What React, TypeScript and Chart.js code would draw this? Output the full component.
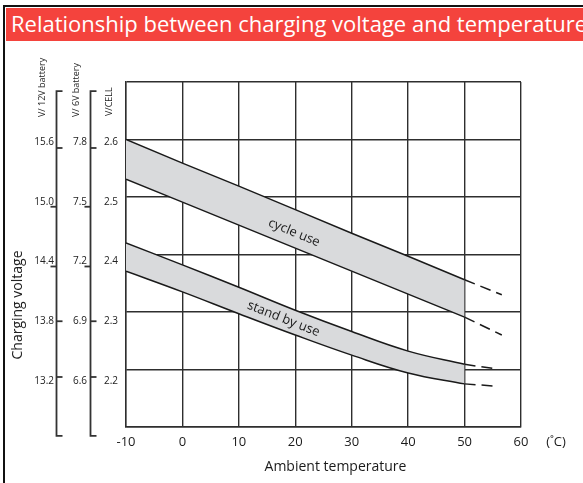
import React, { useEffect, useRef } from 'react';
import { Chart, registerables } from 'chart.js';

Chart.register(...registerables);

// ---- data ----
const temperatures = [-10, 0, 10, 20, 30, 40, 50];
const cycleUpper = [2.6, 2.559, 2.519, 2.478, 2.437, 2.397, 2.356];
const cycleLower = [2.531, 2.491, 2.451, 2.411, 2.371, 2.331, 2.291];
const standbyUpper = [2.42, 2.382, 2.343, 2.303, 2.266, 2.232, 2.209];
const standbyLower = [2.371, 2.335, 2.297, 2.26, 2.225, 2.194, 2.175];

const cycleExtTemps = [50, 56.6];
const cycleUpperExt = [2.356, 2.33];
const cycleLowerExt = [2.291, 2.26];
const standbyExtTemps = [50, 55.6];
const standbyUpperExt = [2.209, 2.201];
const standbyLowerExt = [2.175, 2.171];

const xTicks = [-10, 0, 10, 20, 30, 40, 50, 60];
const gridValues = [2.1, 2.2, 2.3, 2.4, 2.5, 2.6, 2.7];
const cellTicks = [2.2, 2.3, 2.4, 2.5, 2.6];
const v6Ticks = [6.6, 6.9, 7.2, 7.5, 7.8];
const v12Ticks = [13.2, 13.8, 14.4, 15.0, 15.6];

const TITLE = 'Relationship between charging voltage and temperature';
const FONT = '"Open Sans", "Noto Sans", sans-serif';
const LINE = '#1a1a1a';
const GRID = '#2e2e2e';
const BAND = '#d9dadc';

const pts = (xs: number[], ys: number[]) => xs.map((x, i) => ({ x, y: ys[i] }));

// tick marks on the bracket axes (offset from label, direction)
const bracketTickStyle = [
  { dy: -4, dir: 1 },
  { dy: 0, dir: 1 },
  { dy: 5, dir: -1 },
  { dy: 5, dir: -1 },
  { dy: 6, dir: 1 },
];

const annotationPlugin = {
  id: 'annotations',
  afterDraw(chart: any) {
    const ctx = chart.ctx as CanvasRenderingContext2D;
    const area = chart.chartArea;
    const sx = chart.scales.x;
    const sy = chart.scales.y;
    const sc = chart.scales.yCell;
    const s6 = chart.scales.y6;
    const s12 = chart.scales.y12;
    ctx.save();

    // bracket axes
    const top = sc.getPixelForValue(2.685);
    const bottom = sc.getPixelForValue(2.108);
    ctx.strokeStyle = '#333';
    ctx.lineWidth = 1.8;
    const bracket = (s: any, values: number[]) => {
      const bx = s.right - 1.5;
      ctx.beginPath();
      ctx.moveTo(bx + 6, top);
      ctx.lineTo(bx, top);
      ctx.lineTo(bx, bottom);
      ctx.lineTo(bx + 6, bottom);
      ctx.stroke();
      values.forEach((v, i) => {
        const st = bracketTickStyle[i];
        const py = s.getPixelForValue(v) + st.dy;
        ctx.beginPath();
        ctx.moveTo(bx, py);
        ctx.lineTo(bx + st.dir * 6, py);
        ctx.stroke();
      });
    };
    bracket(s12, v12Ticks);
    bracket(s6, v6Ticks);

    // rotated axis captions
    ctx.fillStyle = '#222';
    const rot = (text: string, x: number, y: number, font: string, align: CanvasTextAlign) => {
      ctx.save();
      ctx.translate(x, y);
      ctx.rotate(-Math.PI / 2);
      ctx.font = font;
      ctx.textAlign = align;
      ctx.textBaseline = 'middle';
      ctx.fillText(text, 0, 0);
      ctx.restore();
    };
    rot('V/ 12V battery', s12.right - 16, area.top + 35, `9px ${FONT}`, 'left');
    rot('V/ 6V battery', s6.right - 16, area.top + 35, `9px ${FONT}`, 'left');
    rot('V/CELL', sc.right - 17, area.top + 34, `9px ${FONT}`, 'left');
    rot('Charging voltage', s12.left + 18, area.top + 223, `14px ${FONT}`, 'center');

    // band labels along the band slope
    const bandLabel = (text: string, t: number, v: number, ys: number[], i0: number, i1: number) => {
      const ang = Math.atan2(
        sy.getPixelForValue(ys[i1]) - sy.getPixelForValue(ys[i0]),
        sx.getPixelForValue(temperatures[i1]) - sx.getPixelForValue(temperatures[i0])
      );
      ctx.save();
      ctx.translate(sx.getPixelForValue(t), sy.getPixelForValue(v));
      ctx.rotate(ang);
      ctx.font = `13px ${FONT}`;
      ctx.fillStyle = '#1a1a1a';
      ctx.textAlign = 'center';
      ctx.textBaseline = 'middle';
      ctx.fillText(text, 0, 0);
      ctx.restore();
    };
    bandLabel('cycle use', 19.8, 2.438, cycleUpper, 0, 6);
    bandLabel('stand by use', 17.9, 2.288, standbyUpper, 1, 4);

    // unit and x caption
    ctx.fillStyle = '#1a1a1a';
    ctx.font = `13px ${FONT}`;
    ctx.textAlign = 'center';
    ctx.textBaseline = 'middle';
    ctx.fillText('(˚C)', area.right + 35, area.bottom + 15);
    ctx.font = `14px ${FONT}`;
    ctx.fillText('Ambient temperature', (area.left + area.right) / 2 + 12, area.bottom + 40);
    ctx.restore();
  },
};

export default function App() {
  const canvasRef = useRef<HTMLCanvasElement>(null);

  useEffect(() => {
    if (!canvasRef.current) return;
    const lineBase = {
      borderColor: LINE,
      borderWidth: 1.5,
      pointRadius: 0,
      fill: false,
    };
    const chart = new Chart(canvasRef.current, {
      type: 'line',
      data: {
        datasets: [
          { ...lineBase, label: 'cycle use (min)', data: pts(temperatures, cycleLower), tension: 0 },
          {
            ...lineBase,
            label: 'cycle use (max)',
            data: pts(temperatures, cycleUpper),
            tension: 0,
            fill: '-1',
            backgroundColor: BAND,
          },
          {
            ...lineBase,
            label: 'stand by use (min)',
            data: pts(temperatures, standbyLower),
            tension: 0.4,
          },
          {
            ...lineBase,
            label: 'stand by use (max)',
            data: pts(temperatures, standbyUpper),
            tension: 0.4,
            fill: '-1',
            backgroundColor: BAND,
          },
          { ...lineBase, label: 'c1', data: pts(cycleExtTemps, cycleUpperExt), borderDash: [11, 6] },
          { ...lineBase, label: 'c2', data: pts(cycleExtTemps, cycleLowerExt), borderDash: [11, 6] },
          { ...lineBase, label: 's1', data: pts(standbyExtTemps, standbyUpperExt), borderDash: [11, 6] },
          { ...lineBase, label: 's2', data: pts(standbyExtTemps, standbyLowerExt), borderDash: [11, 6] },
        ] as any,
      },
      options: {
        responsive: false,
        maintainAspectRatio: false,
        devicePixelRatio: 1,
        animation: false,
        layout: { padding: { left: 0, top: 82, right: 62, bottom: 0 } },
        plugins: {
          legend: { display: false },
          tooltip: { enabled: false },
        },
        scales: {
          x: {
            type: 'linear',
            position: 'bottom',
            min: -10,
            max: 60,
            bounds: 'data',
            afterBuildTicks: (s: any) => {
              s.ticks = xTicks.map((v) => ({ value: v }));
            },
            afterFit: (s: any) => {
              s.height = 56;
            },
            ticks: {
              font: { family: FONT, size: 13 },
              color: '#1a1a1a',
              padding: 7,
              callback: (v: any) => String(v),
            },
            grid: { color: GRID, lineWidth: 1.4, drawTicks: false },
            border: { color: GRID, width: 1.4 },
          },
          y: {
            type: 'linear',
            position: 'left',
            weight: 0,
            min: 2.1,
            max: 2.7,
            bounds: 'data',
            afterBuildTicks: (s: any) => {
              s.ticks = gridValues.map((v) => ({ value: v }));
            },
            afterFit: (s: any) => {
              s.width = 0;
            },
            ticks: { display: false },
            grid: { color: GRID, lineWidth: 1.4, drawTicks: false },
            border: { color: GRID, width: 1.4 },
          },
          yCell: {
            type: 'linear',
            position: 'left',
            weight: 1,
            min: 2.123,
            max: 2.7004,
            bounds: 'data',
            afterBuildTicks: (s: any) => {
              s.ticks = cellTicks.map((v) => ({ value: v }));
            },
            afterFit: (s: any) => {
              s.width = 34;
            },
            ticks: {
              font: { family: FONT, size: 10 },
              color: '#222',
              padding: 8,
              callback: (v: any) => Number(v).toFixed(1),
            },
            grid: { display: false, drawTicks: false },
            border: { display: false },
          },
          y6: {
            type: 'linear',
            position: 'left',
            weight: 2,
            min: 6.369,
            max: 8.1012,
            bounds: 'data',
            afterBuildTicks: (s: any) => {
              s.ticks = v6Ticks.map((v) => ({ value: v }));
            },
            afterFit: (s: any) => {
              s.width = 34;
            },
            ticks: {
              font: { family: FONT, size: 10 },
              color: '#222',
              padding: 5,
              callback: (v: any) => Number(v).toFixed(1),
            },
            grid: { display: false, drawTicks: false },
            border: { display: false },
          },
          y12: {
            type: 'linear',
            position: 'left',
            weight: 3,
            min: 12.738,
            max: 16.2024,
            bounds: 'data',
            afterBuildTicks: (s: any) => {
              s.ticks = v12Ticks.map((v) => ({ value: v }));
            },
            afterFit: (s: any) => {
              s.width = 58;
            },
            ticks: {
              font: { family: FONT, size: 10 },
              color: '#222',
              padding: 4,
              callback: (v: any) => Number(v).toFixed(1),
            },
            grid: { display: false, drawTicks: false },
            border: { display: false },
          },
        },
      } as any,
      plugins: [annotationPlugin],
    });
    return () => chart.destroy();
  }, []);

  return (
    <div
      style={{
        position: 'fixed',
        left: 0,
        top: 0,
        width: 583,
        height: 483,
        background: '#fff',
        overflow: 'hidden',
      }}
    >
      <canvas
        ref={canvasRef}
        width={583}
        height={483}
        style={{ position: 'absolute', left: 0, top: 0, width: 583, height: 483 }}
      />
      <div style={{ position: 'absolute', left: 3, top: 5, width: 580, height: 2, background: '#111' }} />
      <div style={{ position: 'absolute', left: 3, top: 5, width: 2, height: 478, background: '#111' }} />
      <div
        style={{
          position: 'absolute',
          left: 6,
          top: 8,
          width: 577,
          height: 33,
          background: '#f4433d',
          overflow: 'hidden',
        }}
      >
        <span
          style={{
            position: 'absolute',
            left: 5,
            top: 0,
            lineHeight: '33px',
            font: `22px ${FONT}`,
            color: '#fff',
            whiteSpace: 'nowrap',
          }}
        >
          {TITLE}
        </span>
      </div>
    </div>
  );
}
